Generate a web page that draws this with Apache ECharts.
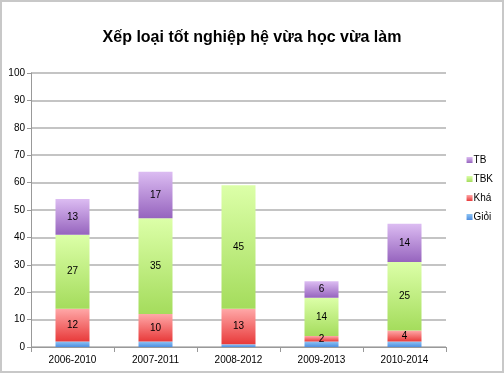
<!DOCTYPE html>
<html><head><meta charset="utf-8">
<script src="https://cdn.jsdelivr.net/npm/echarts@6/dist/echarts.min.js"></script>
<style>html,body{margin:0;padding:0;background:#fff}#c{width:504px;height:373px;box-sizing:border-box;border:2px solid #c8c8c8;}</style>
</head><body><div id="c"></div>
<script>
const categories = ['2006-2010','2007-2011','2008-2012','2009-2013','2010-2014'];
const gioi = [2, 2, 1, 2, 2];
const kha = [12, 10, 13, 2, 4];
const tbk = [27, 35, 45, 14, 25];
const tb = [13, 17, 0, 6, 14];
const yTicks = [0,10,20,30,40,50,60,70,80,90,100];

const chart = echarts.init(document.getElementById('c'));
function grad(top, bottom){
  return new echarts.graphic.LinearGradient(0,0,0,1,[{offset:0,color:top},{offset:1,color:bottom}]);
}
const font = 'Liberation Sans, Arial, sans-serif';
function mk(name, data, top, bottom, showLabel){
  return {
    name, type:'bar', stack:'s', data, barWidth:34,
    itemStyle:{color:grad(top,bottom)},
    label:{show:showLabel, position:'inside', color:'#000', fontSize:10, fontFamily:font,
      formatter:p=>p.value>0?p.value:''},
    emphasis:{disabled:true}
  };
}
chart.setOption({
  animation:false,
  title:{text:'Xếp loại tốt nghiệp hệ vừa học vừa làm', left:'center', top:23,
    textStyle:{fontSize:16, fontWeight:'bold', color:'#000', fontFamily:font}},
  grid:{left:29, right:56, top:71, bottom:24},
  legend:{orient:'vertical', right:4, top:148, itemWidth:6, itemHeight:6, itemGap:9,
    icon:'rect', data:['TB','TBK','Khá','Giỏi'],
    textStyle:{fontSize:10, color:'#000', fontFamily:font, padding:[0,0,0,-4]}},
  color:['#6fa6e8','#f06a6a','#b8ec7c','#b48ad6'],
  xAxis:{type:'category', data:categories,
    axisLine:{lineStyle:{color:'#999'}},
    axisTick:{show:true, lineStyle:{color:'#999'}},
    axisLabel:{color:'#000', fontSize:10, fontFamily:font, margin:8}},
  yAxis:{type:'value', min:0, max:100, interval:10,
    axisLine:{show:true, lineStyle:{color:'#999'}},
    axisTick:{show:true, length:4, lineStyle:{color:'#999'}},
    splitLine:{lineStyle:{color:'#c4c4c4', width:2}},
    axisLabel:{color:'#000', fontSize:10, fontFamily:font, margin:6,
      formatter:v=>yTicks.includes(v)?String(v):''}},
  series:[
    mk('Giỏi', gioi, '#8ec4f4', '#4f8ee0', false),
    mk('Khá', kha, '#ffa8a8', '#e83a3a', true),
    mk('TBK', tbk, '#dcffa8', '#a4dc5c', true),
    mk('TB', tb, '#dcbcf2', '#9664be', true)
  ]
});
</script></body></html>
